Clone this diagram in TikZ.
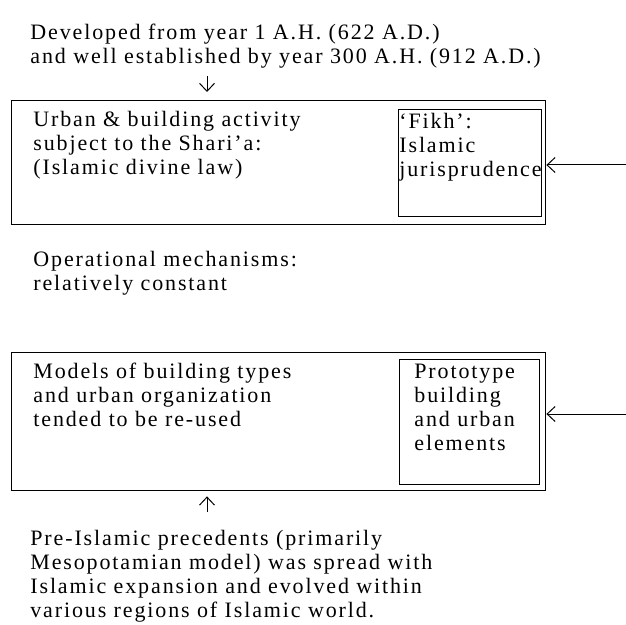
\documentclass[tikz,border=0pt]{standalone}
\usepackage{fontspec}
\setmainfont{Liberation Serif}[LetterSpace=8.5]
\usepackage{tikz}
\usetikzlibrary{arrows.meta,positioning}

\begin{document}
\begin{tikzpicture}[
    x=0.5pt, y=-0.5pt,
    txt/.style={align=left, inner sep=0pt, anchor=north west,
                font=\fontsize{11}{12}\selectfont},
    outer/.style={draw, line width=0.7pt, minimum width=267pt, inner sep=0pt, anchor=north west},
    inner/.style={draw, line width=0.7pt, inner sep=0pt, anchor=north west},
    arrow/.style={-{Straight Barb[length=4pt, width=7.5pt]}, line width=0.5pt}
  ]
    \path[use as bounding box, fill=white] (0,0) rectangle (626,625);

    \node[txt] (origin) at (30,24) {Developed from year 1 A.H. (622 A.D.)\\and well established by year 300 A.H. (912 A.D.)};

    \node[outer, minimum height=62pt] (shariabox) at (11,100) {};
    \node[txt] (sharia) at (33,111) {Urban \& building activity\\subject to the Shari'a:\\(Islamic divine law)};
    \node[inner, minimum width=71.5pt, minimum height=53.5pt] (fikhbox) at (398,109) {};
    \node[txt] (fikh) at (399,113) {`Fikh':\\Islamic\\jurisprudence};

    \node[txt] (mech) at (33,251) {Operational mechanisms:\\relatively constant};

    \node[outer, minimum height=69pt] (modelbox) at (11,352) {};
    \node[txt] (models) at (33,363) {Models of building types\\and urban organization\\tended to be re-used};
    \node[inner, minimum width=70pt, minimum height=62.5pt] (protobox) at (399,359) {};
    \node[txt] (proto) at (414,364) {Prototype\\building\\and urban\\elements};

    \node[txt] (precedents) at (30,530) {Pre-Islamic precedents (primarily\\Mesopotamian model) was spread with\\Islamic expansion and evolved within\\various regions of Islamic world.};

    \coordinate (downtail) at (207,76);
    \coordinate (lawin) at (626,165);
    \coordinate (protoin) at (626,414);
    \coordinate (uptail) at (207,512);
    \draw[arrow, shorten >=4pt] (downtail) -- (downtail |- shariabox.north);
    \draw[arrow] (lawin) -- (lawin -| shariabox.east);
    \draw[arrow] (protoin) -- (protoin -| modelbox.east);
    \draw[arrow, shorten >=2.5pt] (uptail) -- (uptail |- modelbox.south);
\end{tikzpicture}
\end{document}
